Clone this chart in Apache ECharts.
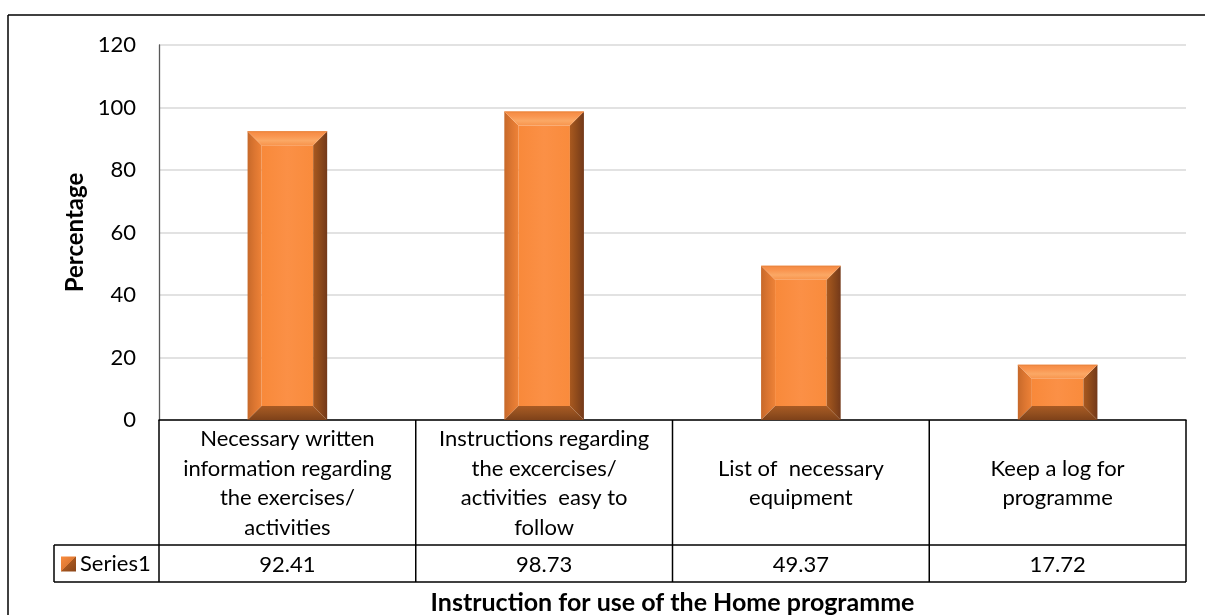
<!DOCTYPE html>
<html>
<head>
<meta charset="utf-8">
<script src="https://cdn.jsdelivr.net/npm/echarts@6/dist/echarts.min.js"></script>
<style>
  html, body { margin: 0; padding: 0; background: #fff; }
  #chart { width: 1205px; height: 615px; }
</style>
</head>
<body>
<div id="chart"></div>
<script>
// Chart content
const categories = [
  'Necessary written\ninformation regarding\nthe exercises/\nactivities',
  'Instructions regarding\nthe excercises/\nactivities  easy to\nfollow',
  'List of  necessary\nequipment',
  'Keep a log for\nprogramme'
];
const seriesName = 'Series1';
const series1 = [92.41, 98.73, 49.37, 17.72];
const yMin = 0;
const yMax = 120;
const yStep = 20;
const yTitle = 'Percentage';
const xTitle = 'Instruction for use of the Home programme';

// Layout
const W = 1205, H = 615;
const GRID = { left: 159, right: 19, top: 45, bottom: 195, containLabel: false, outerBoundsMode: 'none' };
const HEADER_ROW = 125;   // height of the category row of the data table
const VALUE_ROW = 37;     // height of the value row
const KEY_LEFT = 54;      // left edge of the series-name cell
const FONT = 'Lato, "Open Sans", sans-serif';
const FS = 22;            // body text size
const TITLE_FS = 25;      // axis title size

const chart = echarts.init(document.getElementById('chart'), null, { renderer: 'canvas' });

// Bevelled bar drawn from the axis scales
function bevelBar(params, api) {
  const idx = api.value(0);
  const val = api.value(1);
  const pTop = api.coord([idx, val]);
  const pBase = api.coord([idx, 0]);
  const band = api.size([1, 0])[0];
  const w = band * 0.31;
  const x0 = pTop[0] - w / 2, x1 = pTop[0] + w / 2;
  const yT = pTop[1], yB = pBase[1];
  const b = Math.min(14, (yB - yT) / 2, w / 2);
  const lg = (x0_, y0_, x1_, y1_, stops) => new echarts.graphic.LinearGradient(x0_, y0_, x1_, y1_,
    stops.map((c, i) => ({ offset: i / (stops.length - 1), color: c })));
  return {
    type: 'group',
    children: [
      { type: 'rect', shape: { x: x0 + b, y: yT + b, width: w - 2 * b, height: yB - yT - 2 * b },
        style: { fill: lg(0, 0, 1, 0, ['#F8893A', '#FB9046', '#F98B3C']) } },
      { type: 'polygon', shape: { points: [[x0, yT], [x0 + b, yT + b], [x0 + b, yB - b], [x0, yB]] },
        style: { fill: lg(0, 0, 1, 0, ['#C7692A', '#DC7631', '#EE8237']) } },
      { type: 'polygon', shape: { points: [[x1, yT], [x1 - b, yT + b], [x1 - b, yB - b], [x1, yB]] },
        style: { fill: lg(0, 0, 1, 0, ['#A9591F', '#8E4A1B', '#73391A']) } },
      { type: 'polygon', shape: { points: [[x0, yT], [x1, yT], [x1 - b, yT + b], [x0 + b, yT + b]] },
        style: { fill: lg(0, 0, 0, 1, ['#F58A42', '#F99550', '#FBA865', '#F8944C']) } },
      { type: 'polygon', shape: { points: [[x0, yB], [x1, yB], [x1 - b, yB - b], [x0 + b, yB - b]] },
        style: { fill: lg(0, 0, 0, 1, ['#A85A24', '#94501F', '#7E4119']) } },
      { type: 'rect', shape: { x: x0, y: yT, width: w, height: 1 }, style: { fill: '#E9853F' } }
    ]
  };
}

chart.setOption({
  animation: false,
  backgroundColor: '#fff',
  textStyle: { fontFamily: FONT },
  grid: GRID,
  legend: {
    data: [{ name: seriesName, icon: 'rect' }],
    left: 61, top: 552, padding: 0,
    itemWidth: 15, itemHeight: 15, itemGap: 5,
    textStyle: { color: '#000', fontSize: FS, lineHeight: FS, fontFamily: FONT, padding: [2, 0, 0, -1] },
    selectedMode: false
  },
  xAxis: [
    {
      type: 'category',
      data: categories,
      position: 'bottom',
      axisLine: { show: true, lineStyle: { color: '#000', width: 1.5 } },
      axisTick: { show: false },
      axisLabel: {
        interval: 0, color: '#000', fontSize: FS, lineHeight: 29.5,
        margin: HEADER_ROW / 2 + 1, verticalAlign: 'middle', align: 'center'
      },
      splitLine: { show: false },
      name: xTitle,
      nameLocation: 'middle',
      nameGap: 183,
      nameTextStyle: { color: '#000', fontSize: TITLE_FS, fontWeight: 'bold', verticalAlign: 'middle' }
    },
    {
      type: 'category',
      data: categories,
      position: 'bottom',
      offset: HEADER_ROW,
      axisLine: { show: false },
      axisTick: { show: false },
      axisLabel: {
        interval: 0, color: '#000', fontSize: FS,
        margin: VALUE_ROW / 2 + 1, verticalAlign: 'middle', align: 'center',
        formatter: (v, i) => series1[i].toFixed(2)
      }
    }
  ],
  yAxis: {
    type: 'value',
    min: yMin, max: yMax, interval: yStep,
    axisLine: { show: true, lineStyle: { color: '#595959', width: 1.3 } },
    axisTick: { show: false },
    axisLabel: { color: '#000', fontSize: FS, margin: 23 },
    splitLine: { show: true, lineStyle: { color: '#D9D9D9', width: 1.5 } },
    name: yTitle,
    nameLocation: 'middle',
    nameGap: 62,
    nameRotate: 90,
    nameTextStyle: { color: '#000', fontSize: 24, fontWeight: 'bold' }
  },
  series: [{
    name: seriesName,
    type: 'custom',
    xAxisIndex: 0,
    yAxisIndex: 0,
    renderItem: bevelBar,
    encode: { x: 0, y: 1 },
    itemStyle: {
      color: new echarts.graphic.LinearGradient(0, 0, 1, 1, [
        { offset: 0, color: '#F98B3C' }, { offset: 0.5, color: '#E07A34' },
        { offset: 0.5, color: '#A5561F' }, { offset: 1, color: '#8A4519' }
      ])
    },
    data: series1.map((v, i) => [i, v])
  }]
});

// Data-table rules and outer frame, derived from the grid
(function drawTable() {
  const plotL = GRID.left, plotR = W - GRID.right;
  const axisY = H - GRID.bottom;
  const rowY = axisY + HEADER_ROW;
  const botY = rowY + VALUE_ROW;
  const band = (plotR - plotL) / categories.length;
  const stroke = { stroke: '#000', lineWidth: 1.5 };
  const els = [];
  const line = (x1, y1, x2, y2) => els.push({ type: 'line', silent: true, z: 10,
    shape: { x1, y1, x2, y2 }, style: stroke });
  line(KEY_LEFT, rowY, plotR, rowY);
  line(KEY_LEFT, botY, plotR, botY);
  line(KEY_LEFT, rowY, KEY_LEFT, botY);
  for (let i = 0; i <= categories.length; i++) {
    const x = plotL + band * i;
    line(x, axisY, x, botY);
  }
  // chart frame
  line(8, 15, W, 15);
  line(8, 15, 8, H);
  chart.setOption({ graphic: els });
})();
</script>
</body>
</html>
